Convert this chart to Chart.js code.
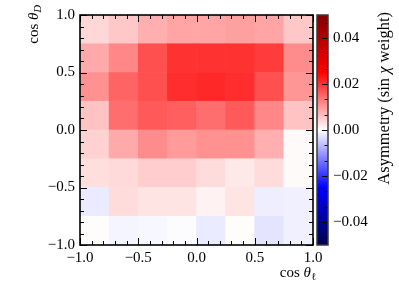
<!DOCTYPE html>
<html>
<head>
<meta charset="utf-8">
<script src="https://cdn.jsdelivr.net/npm/chart.js@4.4.0/dist/chart.umd.min.js"></script>
<style>
  html, body { margin: 0; padding: 0; background: #fff; }
</style>
</head>
<body>
<canvas id="asym" width="399" height="299"></canvas>
<script>
// bin centres along cos(theta_l), bin edges along cos(theta_D)
var cosLCenters = [-0.875, -0.625, -0.375, -0.125, 0.125, 0.375, 0.625, 0.875];
var cosDEdges = [-1, -0.75, -0.5, -0.25, 0, 0.25, 0.5, 0.75, 1];

// asymmetry (sin chi weight), one array per cos(theta_D) row, bottom row first
var asymDm100 = [0.0003, -0.0010, -0.0008, -0.0003, -0.0020, 0.0003, -0.0026, -0.0015];
var asymDm075 = [-0.0020, 0.0034, 0.0026, 0.0026, 0.0013, 0.0026, -0.0017, -0.0015];
var asymDm050 = [0.0032, 0.0036, 0.0049, 0.0049, 0.0034, 0.0023, 0.0034, 0.0005];
var asymDm025 = [0.0044, 0.0083, 0.0113, 0.0098, 0.0108, 0.0108, 0.0078, 0.0005];
var asymDp000 = [0.0059, 0.0142, 0.0162, 0.0157, 0.0142, 0.0162, 0.0118, 0.0059];
var asymDp025 = [0.0108, 0.0152, 0.0172, 0.0206, 0.0211, 0.0206, 0.0172, 0.0103];
var asymDp050 = [0.0083, 0.0118, 0.0172, 0.0201, 0.0201, 0.0201, 0.0191, 0.0113];
var asymDp075 = [0.0039, 0.0054, 0.0078, 0.0088, 0.0088, 0.0093, 0.0088, 0.0054];
var asymRows = [asymDm100, asymDm075, asymDm050, asymDm025, asymDp000, asymDp025, asymDp050, asymDp075];

var axisTicks = [-1, -0.5, 0, 0.5, 1];
var cbarTicks = [-0.04, -0.02, 0, 0.02, 0.04];
var cbarMin = -0.05, cbarMax = 0.05;

var FONT = '"Liberation Serif", "DejaVu Serif", serif';

// matplotlib "seismic"
var seismicStops = [[0, 0, 0, 0.3], [0.25, 0, 0, 1], [0.5, 1, 1, 1], [0.75, 1, 0, 0], [1, 0.5, 0, 0]];
function seismicAt(n) {
  n = Math.max(0, Math.min(1, n));
  for (var i = 1; i < seismicStops.length; i++) {
    if (n <= seismicStops[i][0]) {
      var a = seismicStops[i - 1], b = seismicStops[i];
      var t = (n - a[0]) / (b[0] - a[0]);
      return 'rgb(' + [1, 2, 3].map(function (k) {
        return Math.round(255 * (a[k] + (b[k] - a[k]) * t));
      }).join(',') + ')';
    }
  }
}
function seismic(v) { return seismicAt((v - cbarMin) / (cbarMax - cbarMin)); }

function fmt(v, d) {
  return (v < 0 ? '\u2212' : '') + Math.abs(v).toFixed(d);
}

var datasets = asymRows.map(function (row, j) {
  return {
    data: cosLCenters.map(function (x) { return { x: x, y: [cosDEdges[j], cosDEdges[j + 1]] }; }),
    backgroundColor: row.map(seismic),
    borderWidth: 0,
    grouped: false,
    barPercentage: 1,
    categoryPercentage: 1,
    yAxisID: 'y'
  };
});

// label with italic / subscript pieces
function drawMath(ctx, parts, size) {
  var w = 0;
  parts.forEach(function (p) {
    ctx.font = (p.it ? 'italic ' : '') + (p.sub ? size * 0.7 : size) + 'px ' + FONT;
    p.w = ctx.measureText(p.t).width;
    w += p.w;
  });
  return {
    width: w,
    draw: function (x, y) {
      parts.forEach(function (p) {
        ctx.font = (p.it ? 'italic ' : '') + (p.sub ? size * 0.7 : size) + 'px ' + FONT;
        ctx.fillText(p.t, x, y + (p.sub ? size * 0.22 : 0));
        x += p.w;
      });
    }
  };
}

var framePlugin = {
  id: 'frame',
  afterDatasetsDraw: function (chart) {
    var ctx = chart.ctx, a = chart.chartArea;
    var xs = chart.scales.x, ys = chart.scales.y, cs = chart.scales.y2;
    ctx.save();
    ctx.strokeStyle = '#000';
    ctx.lineWidth = 1;
    // inward ticks on all four sides
    for (var i = -10; i <= 10; i++) {
      var v = i / 10, len = (i % 5 === 0) ? 7 : 4;
      var px = Math.round(xs.getPixelForValue(v)) + 0.5;
      var py = Math.round(ys.getPixelForValue(v)) + 0.5;
      ctx.beginPath();
      ctx.moveTo(px, a.bottom); ctx.lineTo(px, a.bottom - len);
      ctx.moveTo(px, a.top); ctx.lineTo(px, a.top + len);
      ctx.moveTo(a.left, py); ctx.lineTo(a.left + len, py);
      ctx.moveTo(a.right, py); ctx.lineTo(a.right - len, py);
      ctx.stroke();
    }
    ctx.lineWidth = 1.6;
    ctx.strokeRect(a.left, a.top, a.right - a.left, a.bottom - a.top);

    // colour bar
    var cx0 = a.right + 4, cx1 = a.right + 15;
    var cTop = cs.getPixelForValue(cbarMax), cBot = cs.getPixelForValue(cbarMin);
    var g = ctx.createLinearGradient(0, cBot, 0, cTop);
    for (var k = 0; k <= 40; k++) g.addColorStop(k / 40, seismicAt(k / 40));
    ctx.fillStyle = g;
    ctx.fillRect(cx0, cTop, cx1 - cx0, cBot - cTop);
    ctx.strokeStyle = '#000';
    ctx.lineWidth = 1;
    var step = 0.02 / 3;
    for (var m = -7; m <= 7; m++) {
      var cv = m * step;
      if (cv < cbarMin || cv > cbarMax) continue;
      var cy = Math.round(cs.getPixelForValue(cv)) + 0.5;
      var cl = (m % 3 === 0) ? 6 : 3.5;
      ctx.beginPath(); ctx.moveTo(cx1, cy); ctx.lineTo(cx1 - cl, cy); ctx.stroke();
    }
    ctx.strokeStyle = '#3a3a3a';
    ctx.lineWidth = 1.5;
    ctx.strokeRect(cx0, cTop, cx1 - cx0, cBot - cTop);

    // axis labels
    ctx.fillStyle = '#000';
    ctx.textBaseline = 'alphabetic';
    ctx.textAlign = 'left';
    var xl = drawMath(ctx, [{ t: 'cos ' }, { t: '\u03b8', it: true }, { t: '\u2113', sub: true }], 15);
    xl.draw(316 - xl.width, 277);

    ctx.save();
    ctx.translate(38, 0);
    ctx.rotate(-Math.PI / 2);
    var yl = drawMath(ctx, [{ t: 'cos ' }, { t: '\u03b8', it: true }, { t: 'D', it: true, sub: true }], 15);
    yl.draw(-5 - yl.width, 0);
    ctx.restore();

    ctx.save();
    ctx.translate(389, 0);
    ctx.rotate(-Math.PI / 2);
    var cl2 = drawMath(ctx, [{ t: 'Asymmetry (sin ' }, { t: '\u03c7', it: true }, { t: ' weight)' }], 16.5);
    cl2.draw(-12 - cl2.width, 0);
    ctx.restore();
    ctx.restore();
  }
};

function setTicks(list) {
  return function (scale) { scale.ticks = list.map(function (v) { return { value: v }; }); };
}
function fitBox(w, h) {
  return function (s) {
    if (w) s.width = w;
    if (h) s.height = h;
    s.paddingTop = 0; s.paddingBottom = 0; s.paddingLeft = 0; s.paddingRight = 0;
  };
}
var noGrid = { display: false, drawTicks: false };

new Chart(document.getElementById('asym').getContext('2d'), {
  type: 'bar',
  data: { datasets: datasets },
  options: {
    responsive: false,
    animation: false,
    devicePixelRatio: 1,
    layout: { padding: { top: 15, left: 0, right: 0, bottom: 0 } },
    plugins: { legend: { display: false }, tooltip: { enabled: false } },
    scales: {
      x: {
        type: 'linear', min: -1, max: 1, offset: false,
        grid: noGrid, border: { display: false },
        afterBuildTicks: setTicks(axisTicks),
        afterFit: fitBox(0, 54),
        ticks: { color: '#000', padding: 4, maxRotation: 0, font: { family: FONT, size: 15 },
          callback: function (v) { return fmt(v, 1); } }
      },
      y: {
        type: 'linear', min: -1, max: 1,
        grid: noGrid, border: { display: false },
        afterBuildTicks: setTicks(axisTicks),
        afterFit: fitBox(80, 0),
        ticks: { color: '#000', padding: 5, font: { family: FONT, size: 15 },
          callback: function (v) { return fmt(v, 1); } }
      },
      y2: {
        type: 'linear', position: 'right', min: cbarMin, max: cbarMax,
        grid: noGrid, border: { display: false },
        afterBuildTicks: setTicks(cbarTicks),
        afterFit: fitBox(86, 0),
        ticks: { color: '#000', padding: 20, font: { family: FONT, size: 15 },
          callback: function (v) { return fmt(v, 2); } }
      }
    }
  },
  plugins: [framePlugin]
});
</script>
</body>
</html>
